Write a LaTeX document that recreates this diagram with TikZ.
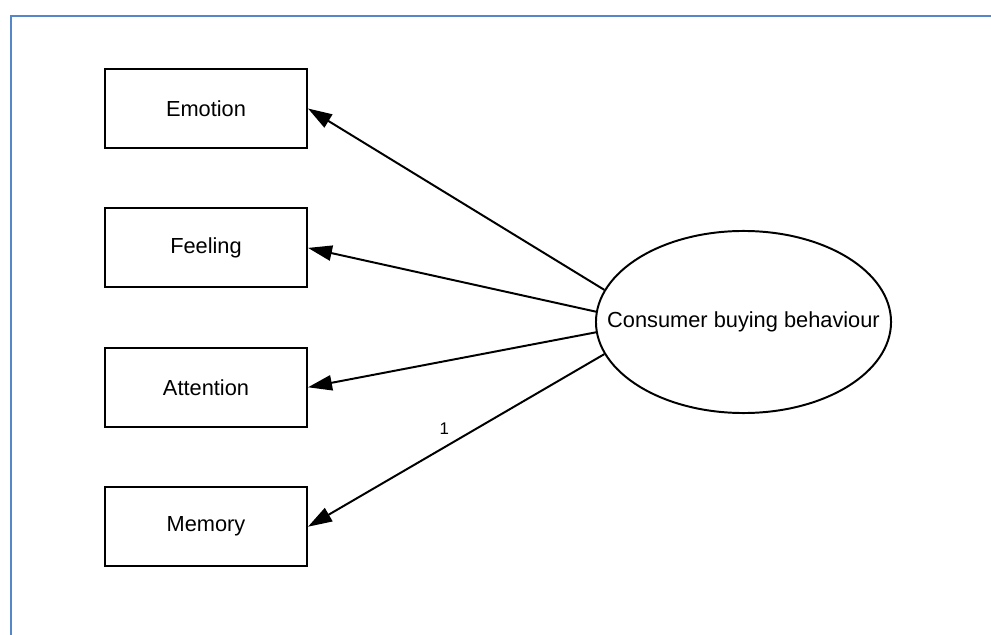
\documentclass[tikz,border=0pt]{standalone}
\usepackage{fontspec}
\setmainfont{Liberation Sans}
\usetikzlibrary{positioning,arrows.meta,shapes.geometric}
\definecolor{frameblue}{RGB}{84,134,200}

\begin{document}
\begin{tikzpicture}[x=0.025cm, y=-0.025cm, font=\fontsize{15.5}{18}\selectfont,
	obs/.style={draw, rectangle, line width=1.4pt, minimum width=5.05cm, minimum height=1.975cm, inner sep=1pt},
	lat/.style={draw, ellipse, line width=1.4pt, minimum width=7.375cm, minimum height=4.55cm, inner xsep=-8.2mm, inner ysep=0pt},
	path/.style={-{Triangle[length=6mm, width=3.8mm]}, line width=1.4pt},
	node distance=14.6mm]
	\useasboundingbox (0,0) rectangle (991,635);
	\draw[frameblue, line width=2pt] (11,635) -- (11,16) -- (991,16);
	\node[obs] (E) at (206,108.5) {Emotion};
	\node[obs, below=of E] (F) {Feeling};
	\node[obs, below=of F] (A) {Attention};
	\node[obs, below=of A] (M) {Memory};
	\node[lat] (C) at (743.5,322) {Consumer buying behaviour};
	\draw[path] (C.167) -- (E.east);
	\draw[path] (C.176) -- (F.east);
	\draw[path] (C.184) -- (A.east);
	\draw[path] (C.193) -- node[pos=0.54, above=5pt, font=\fontsize{12}{14}\selectfont] (one) {1} (M.east);
\end{tikzpicture}
\end{document}
